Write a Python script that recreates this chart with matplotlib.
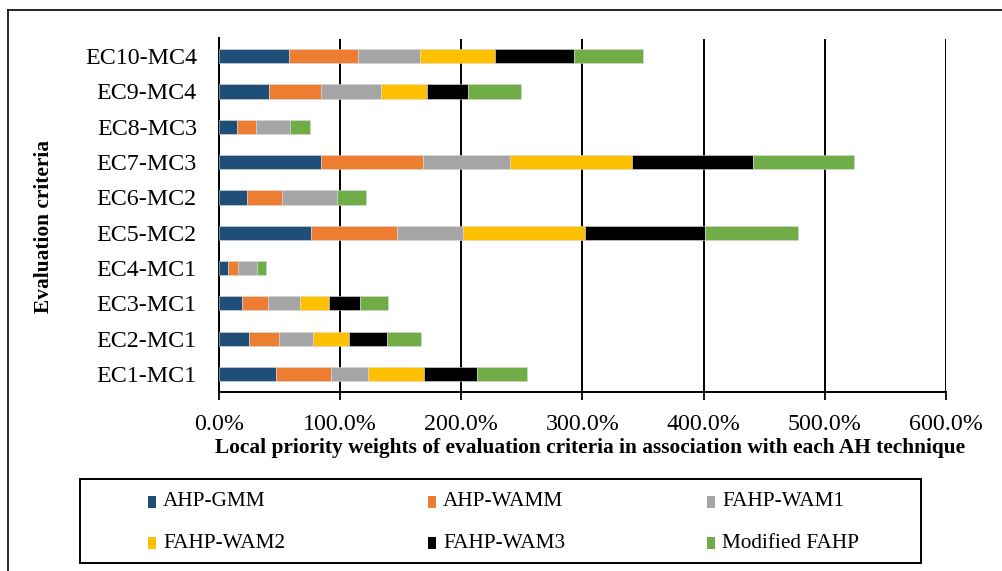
import numpy as np
import matplotlib
matplotlib.use("Agg")
import matplotlib.pyplot as plt
from matplotlib.patches import Rectangle
from matplotlib.lines import Line2D
from matplotlib.ticker import MultipleLocator, FuncFormatter

plt.rcParams['font.family'] = ['Liberation Serif', 'DejaVu Serif']

criteria = ["EC1-MC1", "EC2-MC1", "EC3-MC1", "EC4-MC1", "EC5-MC2",
            "EC6-MC2", "EC7-MC3", "EC8-MC3", "EC9-MC4", "EC10-MC4"]
methods = ["AHP-GMM", "AHP-WAMM", "FAHP-WAM1", "FAHP-WAM2", "FAHP-WAM3", "Modified FAHP"]
colors = ["#1F4E79", "#ED7D31", "#A5A5A5", "#FFC000", "#000000", "#70AD47"]

# percent values (EC1 ... EC10)
ahp_gmm   = [47.1, 24.8, 19.0, 7.4, 76.0, 23.1, 84.3, 14.9, 41.6, 57.9]
ahp_wamm  = [45.5, 24.8, 21.5, 8.1, 71.1, 28.9, 84.3, 15.4, 42.9, 57.0]
fahp_wam1 = [30.5, 28.1, 26.7, 15.7, 54.5, 45.5, 71.6, 28.6, 49.4, 50.6]
fahp_wam2 = [46.3, 30.0, 23.7, 0.0, 100.2, 0.0, 100.3, 0.0, 38.0, 62.4]
fahp_wam3 = [43.2, 30.6, 25.6, 0.0, 99.6, 0.0, 100.3, 0.0, 33.9, 64.9]
mod_fahp  = [41.9, 28.1, 22.6, 7.6, 76.3, 23.7, 83.4, 16.3, 43.2, 57.0]
series = [ahp_gmm, ahp_wamm, fahp_wam1, fahp_wam2, fahp_wam3, mod_fahp]

W, H = 1003, 571
fig = plt.figure(figsize=(W / 100, H / 100), dpi=100)
ax = fig.add_axes([219 / W, 1 - 391.7 / H, (946 - 219) / W, (391.7 - 38.5) / H])

y = np.arange(len(criteria))
left = np.zeros(len(criteria))
for vals, c, name in zip(series, colors, methods):
    vals = np.array(vals)
    ax.barh(y, vals, left=left, height=0.4, color=c, label=name,
            edgecolor="#d9d9d9", linewidth=0.4, zorder=3)
    left += vals

ax.set_ylim(-0.5, 9.5)
ax.set_xlim(0, 600)
ax.set_yticks(y)
ax.set_yticklabels(criteria, fontsize=17.3)
ax.xaxis.set_major_locator(MultipleLocator(100))
ax.xaxis.set_major_formatter(FuncFormatter(lambda v, p: f"{v:.1f}%"))
ax.tick_params(axis='x', labelsize=17.3, direction='out', length=6, width=1.3, pad=10)
ax.tick_params(axis='y', length=0, pad=16)
ax.grid(axis='x', color='black', linewidth=1.4, zorder=0)
ax.set_axisbelow(True)
for s in ["top", "right"]:
    ax.spines[s].set_visible(False)
for s in ["left", "bottom"]:
    ax.spines[s].set_linewidth(1.4)

ax.set_xlabel("Local priority weights of evaluation criteria in association with each AH technique",
              fontsize=15.4, fontweight='bold')
ax.xaxis.set_label_coords(0.511, -0.131)
ax.set_ylabel("Evaluation criteria", fontsize=15.4, fontweight='bold')
ax.yaxis.set_label_coords(-0.227, 0.469)

# outer chart border (top and left visible)
fig.add_artist(Line2D([8 / W, 1.0], [1 - 10 / H, 1 - 10 / H], color='black', lw=1.2))
fig.add_artist(Line2D([8 / W, 8 / W], [1 - 10 / H, 0.0], color='black', lw=1.2))

# legend box
fig.add_artist(Rectangle((80 / W, 1 - 563 / H), (921 - 80) / W, (563 - 479) / H,
                         transform=fig.transFigure, fill=False, edgecolor='black', lw=1.4))
col_x = [148, 428, 707]
row_y = [502, 543]
for i, (name, c) in enumerate(zip(methods, colors)):
    px = col_x[i % 3]
    py = row_y[i // 3]
    fig.add_artist(Rectangle((px / W, 1 - (py + 6) / H), 8 / W, 12 / H,
                             transform=fig.transFigure, facecolor=c, edgecolor='none'))
    fig.text((px + 15) / W, 1 - py / H, name, fontsize=15.3, va='center', ha='left')

fig.savefig("out.png", dpi=100)
